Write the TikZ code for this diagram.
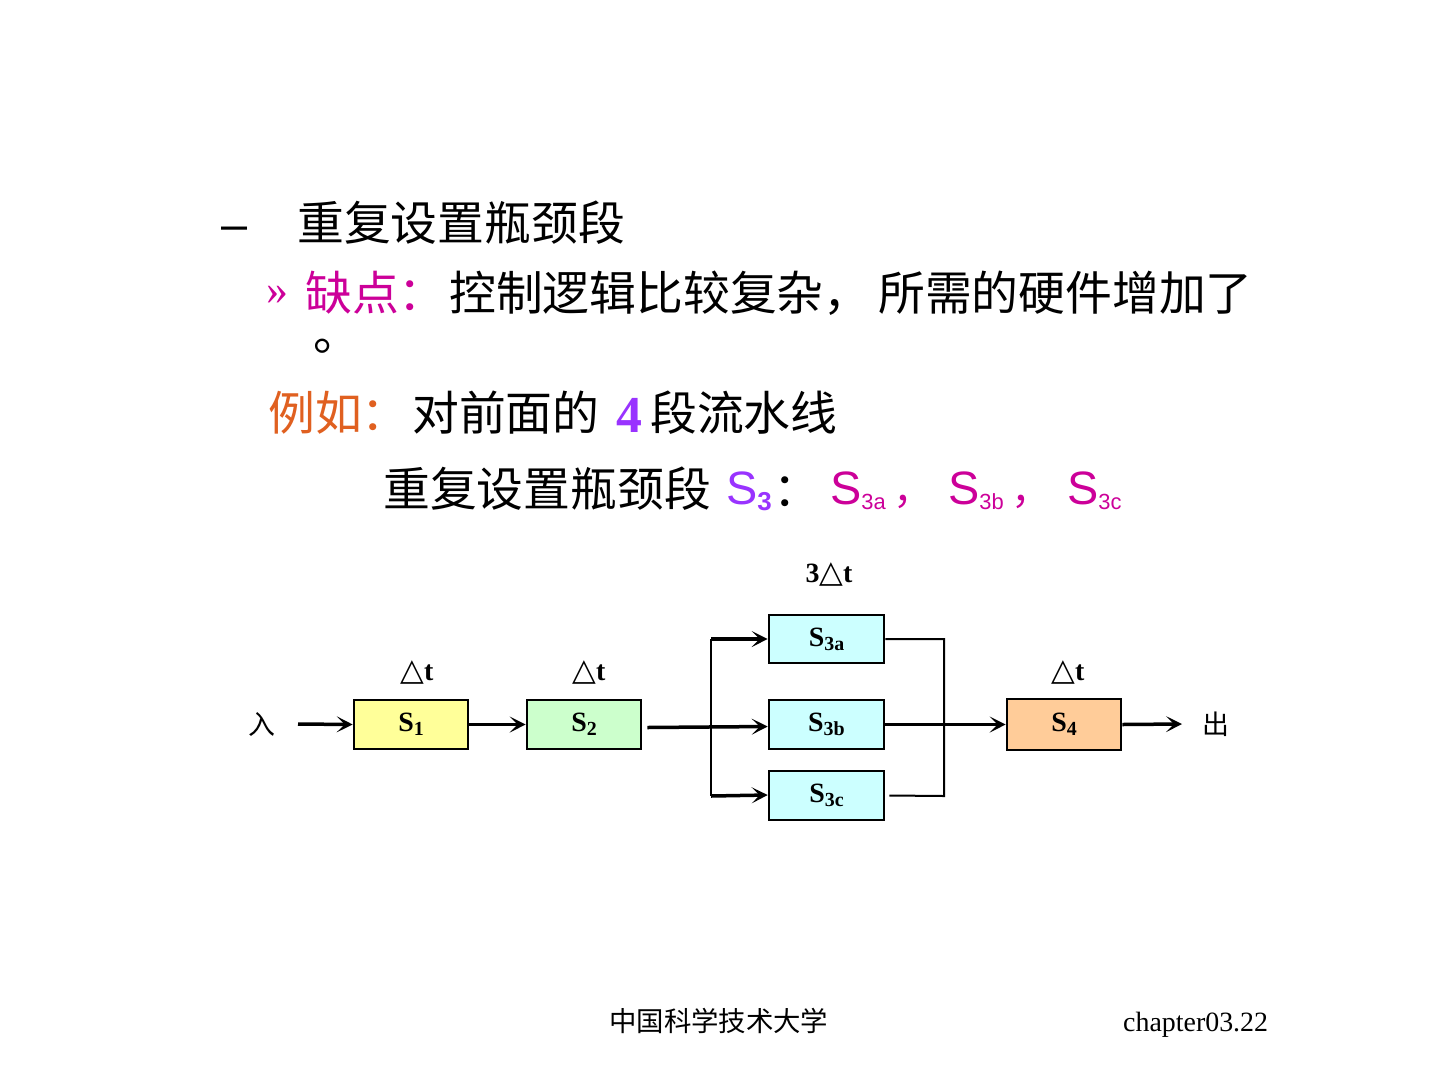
\documentclass[tikz,border=0pt]{standalone}
\usepackage{fontspec}
\setmainfont{Liberation Serif}
\newfontfamily\cjk{Noto Sans CJK SC}
\newfontfamily\arial{Liberation Sans}
\newfontfamily\djv{DejaVu Sans}
\usetikzlibrary{arrows.meta}
\definecolor{mag}{HTML}{CC0099}
\definecolor{org}{HTML}{E06020}
\definecolor{pur}{HTML}{9933FF}
\definecolor{fyel}{HTML}{FFFF99}
\definecolor{fgrn}{HTML}{CCFFCC}
\definecolor{fcyn}{HTML}{CCFFFF}
\definecolor{forg}{HTML}{FFCC99}
\newcommand{\bigsz}{\fontsize{47}{47}\selectfont}
\newcommand{\lblsz}{\fontsize{28}{28}\selectfont\bfseries}
\newcommand{\subsz}{\fontsize{20}{20}\selectfont\bfseries}
\newcommand{\dtri}{{\djv\mdseries\fontsize{31}{31}\selectfont △}t}
\tikzset{
  txt/.style={inner sep=0pt, anchor=base west},
  ctr/.style={inner sep=0pt},
  stagebox/.style={draw, line width=2.6bp, minimum width=114bp, minimum height=49bp, inner sep=0pt},
  arr/.style={line width=3.5bp, -{Stealth[length=16bp,width=16bp,inset=8bp]}},
  thinline/.style={line width=2bp}
}
\begin{document}
\begin{tikzpicture}[x=1bp,y=-1bp]
\useasboundingbox (0,0) rectangle (1440,1080);
\fill[white] (0,0) rectangle (1440,1080);
% text lines
\node[txt] (dash) at (221,240) {\arial\bigsz –};
\node[txt] (l1) at (297,240) {\cjk\bigsz 重复设置瓶颈段};
\node[txt,text=mag] (gg) at (266,304) {\fontsize{44}{44}\selectfont »};
\node[txt,text=mag] (l2a) at (305,310) {\cjk\bigsz 缺点：};
\node[txt] (l2b) at (449,310) {\cjk\bigsz 控制逻辑比较复杂，};
\node[txt] (l2c) at (878,310) {\cjk\bigsz 所需的硬件增加了};
\node[txt] (l2d) at (313,350) {\smash{\cjk\bigsz 。}};
\node[txt,text=org] (l3a) at (268,430) {\cjk\bigsz 例如：};
\node[txt] (l3b) at (412,430) {\cjk\bigsz 对前面的};
\node[txt,text=pur] (l3c) at (616,432) {\fontsize{52}{52}\selectfont\bfseries 4};
\node[txt] (l3d) at (650,430) {\cjk\bigsz 段流水线};
\node[txt] (l4a) at (383,506) {\cjk\bigsz 重复设置瓶颈段};
\node[txt,text=pur] (l4b) at (726,504) {\arial\bigsz S\raisebox{-6bp}{\fontsize{26}{26}\selectfont\bfseries 3}};
\node[txt] (l4c) at (773,506) {\cjk\bigsz ：};
\node[txt,text=mag] (l4d) at (830,504) {\arial\bigsz S\raisebox{-5bp}{\fontsize{22}{22}\selectfont 3a}\,{\cjk\fontsize{40}{40}\selectfont ，}};
\node[txt,text=mag] (l4e) at (948,504) {\arial\bigsz S\raisebox{-5bp}{\fontsize{22}{22}\selectfont 3b}\,{\cjk\fontsize{40}{40}\selectfont ，}};
\node[txt,text=mag] (l4f) at (1067,504) {\arial\bigsz S\raisebox{-5bp}{\fontsize{22}{22}\selectfont 3c}};
% diagram
\node[ctr] (in) at (262,724) {\cjk\fontsize{27}{27}\selectfont 入};
\node[ctr] (out) at (1216,724) {\cjk\fontsize{27}{27}\selectfont 出};
\node[stagebox, fill=fyel] (s1) at (411,724.5) {\raisebox{-3bp}{\lblsz S\raisebox{-4bp}{\subsz 1}}};
\node[stagebox, fill=fgrn] (s2) at (584,724.5) {\raisebox{-3bp}{\lblsz S\raisebox{-4bp}{\subsz 2}}};
\node[stagebox, fill=fcyn, minimum width=115bp, minimum height=48bp] (s3a) at (826.5,639) {\raisebox{-3bp}{\lblsz S\raisebox{-4bp}{\subsz 3a}}};
\node[stagebox, fill=fcyn, minimum width=115bp] (s3b) at (826.5,724.5) {\raisebox{-8bp}{\lblsz S\raisebox{-4bp}{\subsz 3b}}};
\node[stagebox, fill=fcyn, minimum width=115bp] (s3c) at (826.5,795.5) {\raisebox{-3bp}{\lblsz S\raisebox{-4bp}{\subsz 3c}}};
\node[stagebox, fill=forg, minimum height=51bp] (s4) at (1064,724.5) {\raisebox{-3bp}{\lblsz S\raisebox{-4bp}{\subsz 4}}};
\node[ctr] (t1) at (417,672) {\lblsz \dtri};
\node[ctr] (t2) at (589,672) {\lblsz \dtri};
\node[ctr] (t4) at (1068,672) {\lblsz \dtri};
\node[ctr] (t3) at (829,574) {\lblsz 3\dtri};
\coordinate (inA) at (298,724);
\coordinate (outA) at (1182,724);
\coordinate (spT) at (711,639);
\coordinate (spB) at (711,796);
\coordinate (colR) at (944,796);
\draw[arr] (inA) -- (s1.west);
\draw[arr] (s1.east) -- (s2.west);
\draw[arr] ([xshift=5bp,yshift=-3bp]s2.east) -- ([yshift=-2bp]s3b.west);
\draw[line width=2.5bp] (spT) -- (spB);
\draw[arr] (spT) -- (s3a.west);
\draw[arr] (spB) -- ([yshift=0.5bp]s3c.west);
\draw[thinline] (s3a.east) -| (colR) -- ([xshift=4bp]s3c.east);
\draw[arr] (s3b.east) -- (s4.west);
\draw[arr] (s4.east) -- (outA);
% footer
\node[txt] (f1) at (609,1031) {\cjk\fontsize{27.5}{27.5}\selectfont 中国科学技术大学};
\node[txt] (f2) at (1123,1031) {\fontsize{28}{28}\selectfont chapter03.22};
\end{tikzpicture}
\end{document}
